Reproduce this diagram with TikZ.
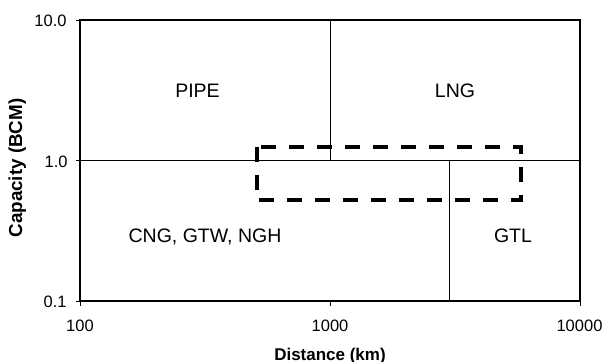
\documentclass[tikz,border=0pt]{standalone}
\usepackage{fontspec}
\setmainfont{Liberation Sans}
\usetikzlibrary{positioning}

\begin{document}
\begin{tikzpicture}[
  x=0.5pt, y=-0.5pt,
  frame/.style={line width=1pt},
  divider/.style={line width=0.5pt},
  window/.style={line width=2pt, dash pattern=on 7.5pt off 6.5pt},
  ticklabel/.style={font=\fontsize{8.25}{10}\selectfont, inner sep=0pt},
  region/.style={font=\fontsize{9.75}{12}\selectfont, inner sep=0pt, anchor=base},
  axistitle/.style={font=\fontsize{8.5}{10}\selectfont\bfseries, inner sep=0pt, anchor=base}
]
\useasboundingbox (0,0) rectangle (604,361);

% Plot area corners
\coordinate (tl) at (80,20);
\coordinate (br) at (580,301);

% === Region dividers ===
\draw[divider] (330,20) -- (330,160.5);
\draw[divider] (80,160.5) -- (580,160.5);
\draw[divider] (449.3,160.5) -- (449.3,301);

% === Frame and ticks ===
\draw[frame] (tl) rectangle (br);
\foreach \y in {20,160.5,301}
  \draw[divider] (76,\y) -- (80,\y);
\foreach \x in {80,330,580}
  \draw[divider] (\x,301) -- (\x,306);

% Tick labels
\node[ticklabel, anchor=east] (y10) at (67,21) {10.0};
\node[ticklabel, anchor=east] (y1) at (68,162) {1.0};
\node[ticklabel, anchor=east] (y01) at (67,302) {0.1};
\node[ticklabel] (x100) at (80,326) {100};
\node[ticklabel] (x1000) at (330,326) {1000};
\node[ticklabel] (x10000) at (579.5,326) {10000};

% Axis titles
\node[axistitle] (xtitle) at (330,360) {Distance (km)};
\node[axistitle, rotate=90, font=\fontsize{9.4}{11}\selectfont\bfseries] (ytitle) at (22,168) {Capacity (BCM)};

% === Regions ===
\node[region] (pipe) at (197.5,97) {PIPE};
\node[region] (lng) at (455,97) {LNG};
\node[region] (cng) at (205,242) {CNG, GTW, NGH};
\node[region] (gtl) at (513,242) {GTL};

% Window of overlap
\draw[window] (256.7,146.7) rectangle (521,200);

\end{tikzpicture}
\end{document}
